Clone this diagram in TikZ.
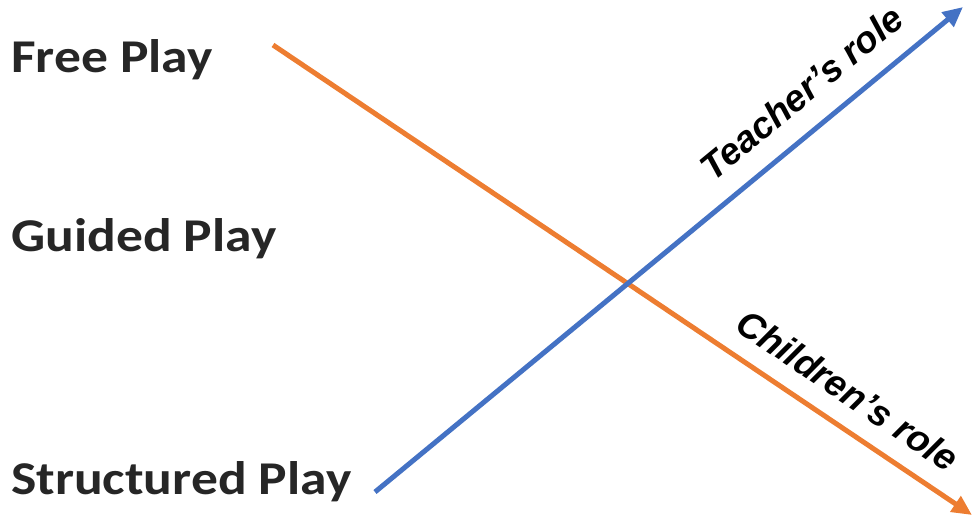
\documentclass[tikz,border=0pt]{standalone}
\usepackage{fontspec}
\newfontfamily\calibri{Carlito}[FakeStretch=1.14]
\newfontfamily\arialbi{Liberation Sans}[BoldItalicFont={* Bold Italic}]
\usetikzlibrary{arrows.meta}
\definecolor{lineblue}{HTML}{4472C4}
\definecolor{lineorange}{HTML}{ED7D31}
\definecolor{textgray}{HTML}{262626}
\begin{document}
\begin{tikzpicture}[x=1pt,y=-1pt,
  level/.style={anchor=base west, inner sep=0pt, text=textgray, font=\calibri\bfseries\fontsize{47}{56}\selectfont},
  role/.style={inner sep=0pt, text=black, font=\arialbi\bfseries\itshape\fontsize{37}{44}\selectfont},
  arrowline/.style={line width=5pt, -{Triangle[length=20pt,width=18pt]}}]
\useasboundingbox (0,0) rectangle (973,519);
\node[level] (free) at (11,72) {Free Play};
\node[level] (guided) at (11,251) {Guided Play};
\node[level] (struct) at (11,494) {Structured Play};
\coordinate (os) at (273,45);
\coordinate (oe) at (972,515);
\coordinate (bs) at (375,492);
\coordinate (be) at (963,7);
\draw[arrowline, lineorange] (os) -- node[role, pos=0.795, sloped, above=18pt] (child) {Children’s role} (oe);
\draw[arrowline, lineblue] (bs) -- node[role, pos=0.765, sloped, above=21pt] (teach) {Teacher’s role} (be);
\end{tikzpicture}
\end{document}
